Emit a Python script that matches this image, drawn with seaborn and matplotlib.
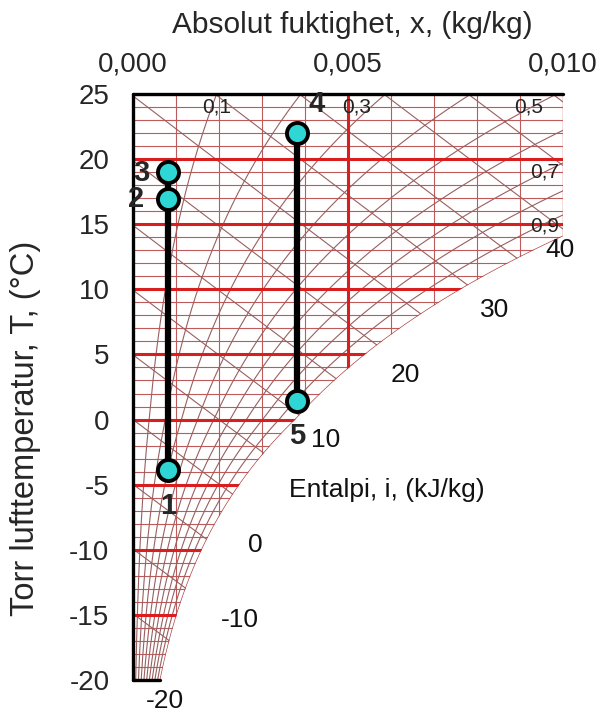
import numpy as np
import pandas as pd
import matplotlib
matplotlib.use("Agg")
import matplotlib.pyplot as plt
from matplotlib.patches import Polygon
import seaborn as sns

# ---------------- data ----------------
point_labels = ["1", "2", "3", "4", "5"]
point_x = [0.00081, 0.00081, 0.00081, 0.00381, 0.00381]   # kg/kg
point_T = [-3.9, 16.9, 19.0, 22.0, 1.4]                    # degC
process_1 = ["1", "2", "3"]
process_2 = ["4", "5"]

rh_levels = [0.1, 0.2, 0.3, 0.4, 0.5, 0.6, 0.7, 0.8, 0.9, 1.0]
rh_label_text = ["0,1", "0,3", "0,5", "0,7", "0,9"]
rh_label_x = [0.00195, 0.00519, 0.00919, 0.00958, 0.00958]
rh_label_T = [24.0, 24.0, 24.0, 19.0, 14.9]

enthalpy_levels = list(range(-20, 55, 5))
enth_label_text = ["40", "30", "20", "10", "0", "-10", "-20"]
enth_label_x = [0.00993, 0.00842, 0.00633, 0.00447, 0.00284, 0.00249, 0.00074]
enth_label_T = [13.0, 8.4, 3.4, -1.6, -9.6, -15.4, -21.6]

x_ticks = [0.0, 0.005, 0.010]
x_tick_labels = ["0,000", "0,005", "0,010"]
y_ticks = [-20, -15, -10, -5, 0, 5, 10, 15, 20, 25]
y_tick_labels = ["-20", "-15", "-10", "-5", "0", "5", "10", "15", "20", "25"]

X_MAX = 0.010
T_MIN, T_MAX = -20, 25
P_ATM = 101325.0

# ---------------- psychrometrics ----------------
def p_sat(T):
    T = np.asarray(T, dtype=float)
    water = 611.2 * np.exp(17.62 * T / (243.12 + T))
    ice = 611.2 * np.exp(22.46 * T / (272.62 + T))
    return np.where(T >= 0, water, ice)

def x_of(phi, T):
    ps = phi * p_sat(T)
    return 0.622 * ps / (P_ATM - ps)

def T_of_enthalpy(i, x):
    return (i - 2501.0 * x) / (1.006 + 1.86 * x)

# ---------------- figure ----------------
sns.set_theme(style="white")
plt.rcParams["font.family"] = ["Liberation Sans", "DejaVu Sans"]

fig = plt.figure(figsize=(6.01, 7.15), dpi=100)
ax = fig.add_axes([133 / 601, 1 - 680 / 715, 430 / 601, 586 / 715])
ax.set_xlim(0, X_MAX)
ax.set_ylim(T_MIN, T_MAX)
for s in ax.spines.values():
    s.set_visible(False)

Tg = np.linspace(T_MIN, T_MAX, 901)
xs = x_of(1.0, Tg)
poly_pts = [(0.0, T_MIN)] + [(min(a, X_MAX), b) for a, b in zip(xs, Tg)] + [(X_MAX, T_MAX), (0.0, T_MAX)]
clip = Polygon(poly_pts, closed=True, transform=ax.transData, facecolor="none", edgecolor="none")
ax.add_patch(clip)

thin_h = "#bf5a5a"
thin_d = "#9a5f5f"
thick = "#d81e1e"

def clipped(line_list):
    for ln in line_list:
        ln.set_clip_path(clip)

# horizontal isotherms
for T in range(T_MIN, T_MAX + 1):
    major = (T % 5 == 0)
    clipped(ax.plot([0, X_MAX], [T, T], color=thick if major else thin_h,
                    lw=2.2 if major else 0.8, zorder=2 if major else 1))
# vertical lines of constant x
for k in range(1, 11):
    xv = k * 0.001
    major = (k == 5)
    clipped(ax.plot([xv, xv], [T_MIN, T_MAX], color=thick if major else thin_h,
                    lw=2.2 if major else (1.0 if k == 10 else 0.8), zorder=2 if major else 1))
# enthalpy lines
xx = np.linspace(0, X_MAX, 200)
for i in enthalpy_levels:
    clipped(ax.plot(xx, T_of_enthalpy(i, xx), color=thin_d, lw=0.8, zorder=1))
# relative humidity curves
for phi in rh_levels:
    clipped(ax.plot(x_of(phi, Tg), Tg, color=thin_d if phi < 1 else "#b04040",
                    lw=0.8 if phi < 1 else 1.0, zorder=1))

# black frame
ax.plot([0, X_MAX], [T_MAX, T_MAX], color="black", lw=2.4, zorder=3, clip_on=False)
ax.plot([0, 0], [T_MIN, T_MAX], color="black", lw=2.4, zorder=3, clip_on=False)
ax.plot([0, float(x_of(1.0, T_MIN))], [T_MIN, T_MIN], color="black", lw=2.4, zorder=3, clip_on=False)

# process lines and points
pts = pd.DataFrame({"label": point_labels, "x": point_x, "T": point_T})
for grp in (process_1, process_2):
    sub = pts[pts["label"].isin(grp)]
    sns.lineplot(data=sub, x="x", y="T", sort=False, estimator=None, orient="y",
                 color="black", lw=4.5, ax=ax, zorder=4)
sns.scatterplot(data=pts, x="x", y="T", s=230, color="#2fd6d6", edgecolor="black",
                linewidth=2.8, ax=ax, zorder=5, clip_on=False)

pt_label_pos = {"1": (0.00081, -6.6), "2": (0.00007, 16.9), "3": (0.00019, 18.9),
                "4": (0.00426, 24.2), "5": (0.00381, -1.3)}
for lab in point_labels:
    px, pt = pt_label_pos[lab]
    ax.text(px, pt, lab, fontsize=21, fontweight="bold", ha="center", va="center", zorder=6)

for t, px, pt in zip(rh_label_text, rh_label_x, rh_label_T):
    ax.text(px, pt, t, fontsize=15, ha="center", va="center", color="#222222", zorder=6)
for t, px, pt in zip(enth_label_text, enth_label_x, enth_label_T):
    ax.text(px, pt, t, fontsize=19, ha="center", va="center", color="#111111", zorder=6, clip_on=False)
ax.text(0.00591, -5.4, "Entalpi, i, (kJ/kg)", fontsize=19, ha="center", va="center", color="#111111")

# axes ticks / labels
ax.xaxis.tick_top()
ax.xaxis.set_label_position("top")
ax.set_xticks(x_ticks)
ax.set_xticklabels(x_tick_labels, fontsize=20)
ax.set_yticks(y_ticks)
ax.set_yticklabels(y_tick_labels, fontsize=20)
ax.tick_params(axis="x", length=0, pad=12)
ax.tick_params(axis="y", length=0, pad=17)

ax.set_xlabel("Absolut fuktighet, x, (kg/kg)", fontsize=21.5)
ax.xaxis.set_label_coords(0.51, 1.104)
ax.set_ylabel("Torr lufttemperatur, T, (°C)", fontsize=23.5)
ax.yaxis.set_label_coords(-0.215, 0.43)

fig.savefig("out.png", dpi=100)
